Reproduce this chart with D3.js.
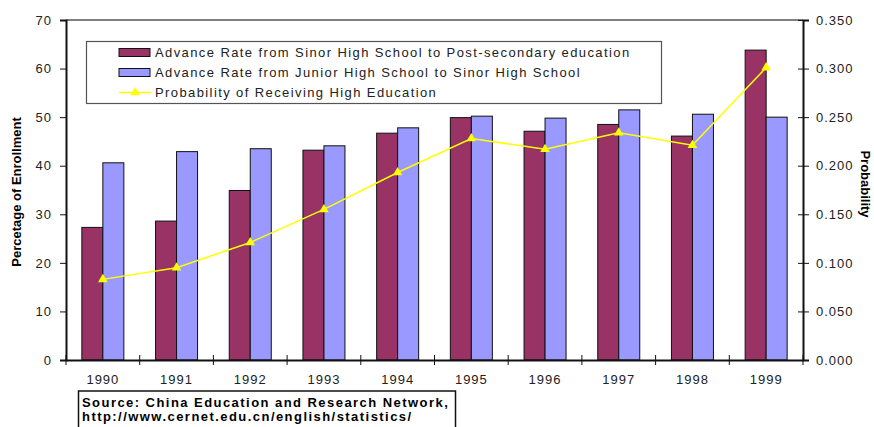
<!DOCTYPE html>
<html>
<head>
<meta charset="utf-8">
<script src="https://cdn.jsdelivr.net/npm/d3@7"></script>
<style>
	body { margin: 0; background: #fff; }
	svg { display: block; font-family: "Liberation Sans", Arial, sans-serif; }
	.tick text { font-size: 13px; letter-spacing: 1px; fill: #222; }
</style>
</head>
<body>
<svg id="chart" width="874" height="427"></svg>
<script>
const YEARS = ['1990', '1991', '1992', '1993', '1994', '1995', '1996', '1997', '1998', '1999'];
const SENIOR_TO_POST = [27.3, 28.6, 34.9, 43.2, 46.7, 49.9, 47.1, 48.5, 46.1, 63.8];
const JUNIOR_TO_SENIOR = [40.6, 42.9, 43.5, 44.1, 47.8, 50.2, 49.8, 51.5, 50.6, 50.0];
const PROBABILITY = [0.083, 0.095, 0.121, 0.155, 0.193, 0.228, 0.217, 0.234, 0.221, 0.301];
const LEFT_TICKS = [0, 10, 20, 30, 40, 50, 60, 70];
const RIGHT_TICKS = [0, 0.05, 0.1, 0.15, 0.2, 0.25, 0.3, 0.35];
const SERIES = ['Advance Rate from Sinor High School to Post-secondary education',
	'Advance Rate from Junior High School to Sinor High School',
	'Probability of Receiving High Education'];
const COLORS = ['#993366', '#9999ff', '#ffff00'];

const svg = d3.select('#chart');
const plot = { left: 66, right: 803, top: 20, bottom: 360 };

const x = d3.scaleBand()
	.domain(YEARS)
	.range([plot.left, plot.right])
	.paddingInner(0.43)
	.paddingOuter(0.215);
const xs = d3.scaleBand()
	.domain([0, 1])
	.range([0, x.bandwidth()]);
const yL = d3.scaleLinear().domain([0, 70]).range([plot.bottom, plot.top]);
const yR = d3.scaleLinear().domain([0, 0.35]).range([plot.bottom, plot.top]);

// top border of the plot area
svg.append('line')
	.attr('x1', plot.left).attr('x2', plot.right)
	.attr('y1', plot.top).attr('y2', plot.top)
	.attr('stroke', '#555').attr('stroke-width', 1.5);

// bars
const data = YEARS.map((yr, i) => ({ year: yr, vals: [SENIOR_TO_POST[i], JUNIOR_TO_SENIOR[i]], p: PROBABILITY[i] }));
const groups = svg.selectAll('g.year')
	.data(data)
	.enter()
	.append('g')
	.attr('transform', d => `translate(${x(d.year)},0)`);
groups.selectAll('rect')
	.data(d => d.vals)
	.enter()
	.append('rect')
	.attr('x', (d, i) => xs(i))
	.attr('y', d => yL(d))
	.attr('width', xs.bandwidth())
	.attr('height', d => yL(0) - yL(d))
	.attr('fill', (d, i) => COLORS[i])
	.attr('stroke', '#111')
	.attr('stroke-width', 1);

// left axis
const gL = svg.append('g')
	.attr('transform', `translate(${plot.left},0)`)
	.call(d3.axisLeft(yL).tickValues(LEFT_TICKS).tickSize(6).tickPadding(8));
gL.select('.domain').attr('stroke', '#111').attr('stroke-width', 2);

// right axis
const gR = svg.append('g')
	.attr('transform', `translate(${plot.right},0)`)
	.call(d3.axisRight(yR).tickValues(RIGHT_TICKS).tickFormat(d3.format('.3f')).tickSize(6).tickPadding(7));
gR.select('.domain').attr('stroke', '#111').attr('stroke-width', 2);
gR.selectAll('.tick line').attr('x1', -5);

// bottom axis
const gB = svg.append('g')
	.attr('transform', `translate(0,${plot.bottom})`)
	.call(d3.axisBottom(x).tickSize(0).tickPadding(16));
gB.select('.domain').attr('stroke', '#111').attr('stroke-width', 2);
gB.selectAll('.tick text').attr('dy', '0.71em').attr('y', 15);
gB.selectAll('line.sep')
	.data(d3.range(YEARS.length + 1))
	.enter()
	.append('line')
	.attr('class', 'sep')
	.attr('x1', i => plot.left + i * x.step())
	.attr('x2', i => plot.left + i * x.step())
	.attr('y1', -5).attr('y2', 5)
	.attr('stroke', '#111');

svg.selectAll('.tick line').attr('stroke', '#111');

// probability line
const cx = d => x(d.year) + x.bandwidth() / 2;
svg.append('path')
	.datum(data)
	.attr('fill', 'none')
	.attr('stroke', COLORS[2])
	.attr('stroke-width', 1.5)
	.attr('d', d3.line().x(cx).y(d => yR(d.p)));
svg.selectAll('path.mark')
	.data(data)
	.enter()
	.append('path')
	.attr('class', 'mark')
	.attr('transform', d => `translate(${cx(d)},${yR(d.p)})`)
	.attr('d', d3.symbol(d3.symbolTriangle).size(40))
	.attr('fill', COLORS[2]);

// axis titles
svg.append('text')
	.attr('transform', 'translate(21,192) rotate(-90)')
	.attr('text-anchor', 'middle')
	.attr('font-size', 13).attr('font-weight', 'bold')
	.text('Percetage of Enrollment');
svg.append('text')
	.attr('transform', 'translate(861,184) rotate(90)')
	.attr('text-anchor', 'middle')
	.attr('font-size', 13).attr('font-weight', 'bold')
	.text('Probability');

// legend
const legend = svg.append('g');
legend.append('rect')
	.attr('x', 86.5).attr('y', 41.5).attr('width', 575).attr('height', 62)
	.attr('fill', '#fff').attr('stroke', '#555').attr('stroke-width', 1.2);
SERIES.forEach((name, i) => {
	const cy = 52.5 + i * 20;
	if (i < 2) {
		legend.append('rect')
			.attr('x', 119).attr('y', cy - 4).attr('width', 31).attr('height', 8)
			.attr('fill', COLORS[i]).attr('stroke', '#111');
	} else {
		legend.append('line')
			.attr('x1', 119).attr('x2', 151).attr('y1', cy).attr('y2', cy)
			.attr('stroke', COLORS[i]).attr('stroke-width', 1.5);
		legend.append('path')
			.attr('transform', `translate(135,${cy})`)
			.attr('d', d3.symbol(d3.symbolTriangle).size(40))
			.attr('fill', COLORS[i]);
	}
	legend.append('text')
		.attr('x', 155).attr('y', cy + 4.8)
		.attr('font-size', 13).attr('letter-spacing', '1.4px').attr('fill', '#222')
		.text(name);
});

// source box
svg.append('rect')
	.attr('x', 78.5).attr('y', 391).attr('width', 377).attr('height', 45)
	.attr('fill', '#fff').attr('stroke', '#111').attr('stroke-width', 1.5);
svg.selectAll('text.src')
	.data(['Source: China Education and Research Network,', 'http://www.cernet.edu.cn/english/statistics/'])
	.enter()
	.append('text')
	.attr('class', 'src')
	.attr('x', 82).attr('y', (d, i) => 407 + i * 14)
	.attr('font-size', 13).attr('font-weight', 'bold').attr('letter-spacing', '1.45px')
	.text(d => d);
</script>
</body>
</html>
